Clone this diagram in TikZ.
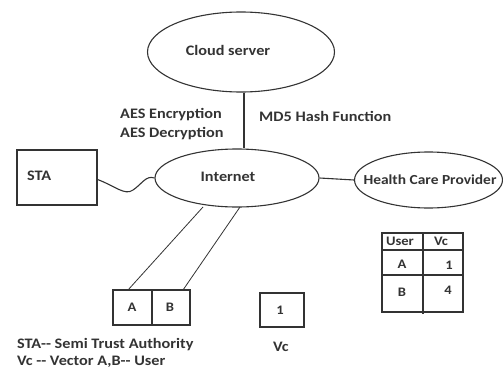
\documentclass[tikz,border=0pt]{standalone}
\usepackage{fontspec}
\setmainfont{Carlito}[FakeStretch=1.12]
\usetikzlibrary{shapes.geometric}
\begin{document}
\begin{tikzpicture}[x=1pt,y=-1pt,
  ln/.style={draw=black!80,line width=1.1pt},
  lbl/.style={font=\bfseries\fontsize{14.5}{16}\selectfont,text=black!80,inner sep=0pt},
  tbl/.style={font=\bfseries\fontsize{13}{15}\selectfont,text=black!80,inner sep=0pt},
  oval/.style={ln,ellipse,inner sep=0pt}]
\useasboundingbox (0,0) rectangle (503,369);
\node[oval,minimum width=187pt,minimum height=80pt] (cloud) at (241,52) {};
\node[lbl] at (228,50) {Cloud server};
\node[oval,minimum width=164pt,minimum height=58pt] (inet) at (237,178) {};
\node[lbl] at (228,177) {Internet};
\node[oval,minimum width=148pt,minimum height=56pt] (hcp) at (428.5,180) {};
\node[lbl,font=\bfseries\fontsize{13.8}{16}\selectfont] at (430,180) {Health Care Provider};
\node[ln,minimum width=80pt,minimum height=55pt,inner sep=0pt] (sta) at (57,177.5) {};
\node[lbl,anchor=west] at (27,176) {STA};
\node[lbl,anchor=west] (aes1) at (120,115) {AES Encryption};
\node[lbl,anchor=west] (aes2) at (120,134) {AES Decryption};
\node[lbl,anchor=west] (md5) at (259,116) {MD5 Hash Function};
\draw[ln] ([xshift=3pt]cloud.south) -- ([xshift=3pt]cloud.south |- inet.north);
\draw[ln] (inet.east) -- (hcp.west);
\draw[ln] (sta.east) ++(0,2) coordinate (s1)
  (s1) .. controls (115,186) and (125,196) .. (133,190) .. controls (142,184) and (146,175) .. (inet.west);
% AB box
\node[ln,minimum width=39pt,minimum height=35pt,inner sep=0pt] (boxA) at (132.5,307.5) {};
\node[ln,minimum width=38pt,minimum height=35pt,inner sep=0pt] (boxB) at (171,307.5) {};
\node[tbl] at (132,307) {A};
\node[tbl] at (170,307) {B};
\coordinate (ia) at (203,207);
\coordinate (ib) at (240,207);
\draw[ln,line width=0.8pt] (ia) -- (128,290);
\draw[ln,line width=0.8pt] (ib) -- (183,290);
% Vc box
\node[ln,minimum width=44pt,minimum height=34pt,inner sep=0pt] (vc) at (282,310) {};
\node[tbl] at (280,310) {1};
\node[lbl] at (281,347) {Vc};
% legend
\node[lbl,anchor=west] at (17,345) {STA-{}- Semi Trust Authority};
\node[lbl,anchor=west] at (17,362) {Vc -{}- Vector A,B-{}- User};
% table
\draw[ln] (382,233) rectangle (463,312);
\draw[ln] (423,233) -- (423,314);
\draw[ln,line width=1.6pt] (382,250) -- (463,250);
\draw[ln] (382,275) -- (463,275);
\node[tbl] at (400,241) {User};
\node[tbl] at (441,241) {Vc};
\node[tbl] at (402,264) {A};
\node[tbl] at (449,265) {1};
\node[tbl] at (402,292) {B};
\node[tbl] at (448,290) {4};
\end{tikzpicture}
\end{document}
